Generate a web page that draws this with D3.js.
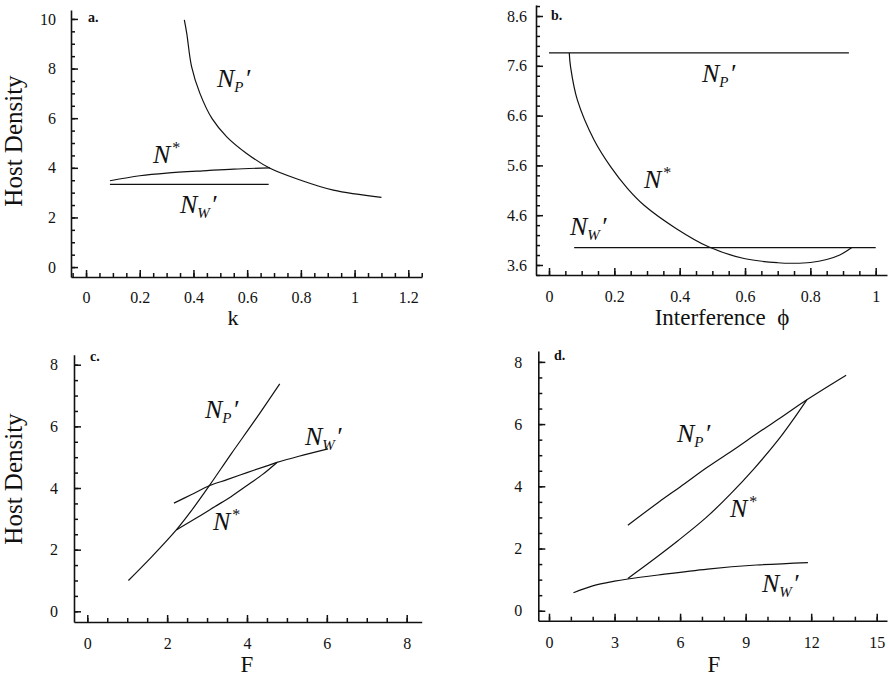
<!DOCTYPE html>
<html>
<head>
<meta charset="utf-8">
<script src="https://cdn.jsdelivr.net/npm/d3@7"></script>
<style>
  body { margin: 0; background: #fff; }
  svg { display: block; }
</style>
</head>
<body>
<svg id="chart" width="888" height="676"></svg>
<script>
// ---- panel a: host density vs k ----
const aXTicks = [0, 0.2, 0.4, 0.6, 0.8, 1, 1.2];
const aYTicks = [0, 2, 4, 6, 8, 10];
const aNP = [[0.366, 9.96], [0.375, 9.42], [0.393, 8.08], [0.424, 7.0], [0.470, 5.97], [0.524, 5.25],
             [0.598, 4.58], [0.685, 3.98], [0.797, 3.51], [0.921, 3.10], [1.10, 2.81]];
const aNstar = [[0.089, 3.48], [0.2, 3.68], [0.3, 3.79], [0.45, 3.89], [0.55, 3.95], [0.685, 4.0]];
const aNW = [[0.089, 3.33], [0.68, 3.33]];

// ---- panel b: host density vs interference phi ----
const bXTicks = [0, 0.2, 0.4, 0.6, 0.8, 1];
const bYTicks = [3.6, 4.6, 5.6, 6.6, 7.6, 8.6];
const bNP = [[0, 7.86], [0.918, 7.86]];
const bNstar = [[0.062, 7.86], [0.066, 7.58], [0.087, 6.91], [0.138, 6.11], [0.189, 5.57], [0.24, 5.14],
                [0.291, 4.80], [0.39, 4.33], [0.49, 3.96], [0.597, 3.73], [0.70, 3.645], [0.75, 3.635],
                [0.80, 3.65], [0.85, 3.71], [0.89, 3.80], [0.927, 3.95]];
const bNW = [[0.077, 3.95], [1.0, 3.95]];

// ---- panel c: host density vs F ----
const cXTicks = [0, 2, 4, 6, 8];
const cYTicks = [0, 2, 4, 6, 8];
const cNP = [[1.03, 1.0], [1.6, 1.75], [2.23, 2.64], [2.6, 3.25], [3.07, 4.1], [3.6, 5.1], [4.2, 6.2], [4.82, 7.38]];
const cNstar = [[2.23, 2.64], [2.7, 3.0], [3.2, 3.40], [3.6, 3.72], [4.0, 4.08], [4.4, 4.45], [4.75, 4.83]];
const cNW = [[2.17, 3.51], [2.6, 3.78], [3.07, 4.08], [3.5, 4.27], [4.0, 4.5], [4.5, 4.72], [4.75, 4.83],
             [5.3, 5.03], [6.03, 5.27]];

// ---- panel d: host density vs F ----
const dXTicks = [0, 3, 6, 9, 12, 15];
const dYTicks = [0, 2, 4, 6, 8];
const dNP = [[3.61, 2.75], [5.0, 3.48], [6.0, 3.98], [7.26, 4.62], [8.5, 5.2], [9.57, 5.72], [10.7, 6.25],
             [11.8, 6.78], [13.6, 7.57]];
const dNstar = [[3.61, 1.04], [4.6, 1.55], [5.9, 2.25], [7.2, 3.0], [8.3, 3.75], [9.4, 4.58], [10.5, 5.5],
                [11.2, 6.17], [11.8, 6.78]];
const dNW = [[1.12, 0.58], [2.0, 0.8], [3.0, 0.95], [3.61, 1.02], [5.0, 1.15], [7.26, 1.34], [9.5, 1.47], [11.85, 1.55]];

const serif = '"Liberation Serif", "Times New Roman", serif';
const svg = d3.select('#chart');

const panels = [
    {
        letter: 'a.', letterPos: [88, 22],
        x: d3.scaleLinear().domain([-0.056, 1.251]).range([71, 422]),
        y: d3.scaleLinear().domain([-0.4, 10.36]).range([277, 10]),
        xTicks: aXTicks, yTicks: aYTicks, xMinor: 0.05, yMinor: 0.5,
        xPad: 15, yPad: 15,
        xLabel: 'k', xLabelPos: [233, 325], yLabel: 'Host Density', yLabelPos: [22, 141],
        series: [aNP, aNstar, aNW],
        labels: [[217, 87, 'P'], [153, 163, '*'], [180, 213, 'W']]
    },
    {
        letter: 'b.', letterPos: [551, 20],
        x: d3.scaleLinear().domain([-0.0398, 1.0346]).range([536, 887]),
        y: d3.scaleLinear().domain([3.399, 8.821]).range([275, 5]),
        xTicks: bXTicks, yTicks: bYTicks, xMinor: 0.05, yMinor: 0.2,
        xPad: 16, yPad: 9,
        xLabel: 'Interference  ϕ', xLabelPos: [722, 325],
        series: [bNP, bNstar, bNW],
        labels: [[702, 82, 'P'], [644, 188, '*'], [570, 235, 'W']]
    },
    {
        letter: 'c.', letterPos: [90, 361],
        x: d3.scaleLinear().domain([-0.333, 8.376]).range([74, 421.7]),
        y: d3.scaleLinear().domain([-0.347, 8.325]).range([622, 354.7]),
        xTicks: cXTicks, yTicks: cYTicks, xMinor: 0.5, yMinor: 0.5,
        xPad: 16, yPad: 16,
        xLabel: 'F', xLabelPos: [247, 672], yLabel: 'Host Density', yLabelPos: [22, 479],
        series: [cNP, cNstar, cNW],
        labels: [[205, 418, 'P'], [305, 445, 'W'], [213, 530, '*']]
    },
    {
        letter: 'd.', letterPos: [554, 360],
        x: d3.scaleLinear().domain([-0.49, 15.47]).range([538.3, 887]),
        y: d3.scaleLinear().domain([-0.32, 8.35]).range([620.7, 351]),
        xTicks: dXTicks, yTicks: dYTicks, xMinor: 1, yMinor: 0.5,
        xPad: 16, yPad: 16,
        xLabel: 'F', xLabelPos: [714, 672],
        series: [dNP, dNstar, dNW],
        labels: [[677, 442, 'P'], [730, 517, '*'], [762, 592, 'W']]
    }
];

const line = d3.line().curve(d3.curveCatmullRom.alpha(0.5));

function minorTicks(scale, step) {
    const [a, b] = scale.domain();
    return d3.range(Math.ceil(a / step) * step, b + 1e-9, step);
}

panels.forEach(p => {
    const g = svg.append('g');
    const x0 = p.x.range()[0];
    const yBase = p.y.range()[0];

    // minor ticks
    g.append('g')
        .attr('transform', `translate(0,${yBase})`)
        .call(d3.axisBottom(p.x).tickValues(minorTicks(p.x, p.xMinor)).tickSize(-4).tickFormat(''))
        .call(s => s.select('.domain').remove());
    g.append('g')
        .attr('transform', `translate(${x0},0)`)
        .call(d3.axisLeft(p.y).tickValues(minorTicks(p.y, p.yMinor)).tickSize(-4).tickFormat(''))
        .call(s => s.select('.domain').remove());

    // major axes
    const xAxis = g.append('g')
        .attr('transform', `translate(0,${yBase})`)
        .call(d3.axisBottom(p.x).tickValues(p.xTicks).tickSizeInner(-7).tickSizeOuter(0)
            .tickPadding(p.xPad).tickFormat(d => String(d)));
    const yAxis = g.append('g')
        .attr('transform', `translate(${x0},0)`)
        .call(d3.axisLeft(p.y).tickValues(p.yTicks).tickSizeInner(-7).tickSizeOuter(0)
            .tickPadding(p.yPad).tickFormat(d => String(d)));

    g.selectAll('.domain').attr('stroke', '#111').attr('stroke-width', 1.6);
    g.selectAll('.tick line').attr('stroke', '#111').attr('stroke-width', 1.5);
    [xAxis, yAxis].forEach(ax => ax.selectAll('text')
        .attr('font-family', serif).attr('font-size', 16).attr('fill', '#111'));

    // curves
    p.series.forEach(s => {
        g.append('path')
            .attr('d', line(s.map(d => [p.x(d[0]), p.y(d[1])])))
            .attr('fill', 'none')
            .attr('stroke', '#111')
            .attr('stroke-width', 1.2);
    });

    // curve labels
    p.labels.forEach(([lx, ly, kind]) => {
        const t = g.append('text')
            .attr('x', lx).attr('y', ly)
            .attr('font-family', serif).attr('font-size', 26)
            .attr('font-style', 'italic').attr('fill', '#111');
        t.append('tspan').text('N');
        if (kind === '*') {
            t.append('tspan').attr('font-size', 16).attr('font-style', 'normal').attr('dy', -10).attr('dx', 2).text('*');
        } else {
            t.append('tspan').attr('font-size', 15).attr('dy', 5).text(kind);
            t.append('tspan').attr('font-size', 26).attr('dy', -5).attr('dx', 1).text('′');
        }
    });

    // panel letter
    g.append('text')
        .attr('x', p.letterPos[0]).attr('y', p.letterPos[1])
        .attr('font-family', serif).attr('font-size', 14).attr('font-weight', 'bold')
        .attr('fill', '#111').text(p.letter);

    // axis titles
    g.append('text')
        .attr('x', p.xLabelPos[0]).attr('y', p.xLabelPos[1])
        .attr('text-anchor', 'middle')
        .attr('font-family', serif).attr('font-size', p.xLabel === 'k' ? 22 : 23)
        .attr('fill', '#111')
        .style('white-space', 'pre')
        .text(p.xLabel);
    if (p.yLabel) {
        g.append('text')
            .attr('transform', `translate(${p.yLabelPos[0]},${p.yLabelPos[1]}) rotate(-90)`)
            .attr('text-anchor', 'middle')
            .attr('font-family', serif).attr('font-size', 25)
            .attr('fill', '#111')
            .text(p.yLabel);
    }
});
</script>
</body>
</html>
